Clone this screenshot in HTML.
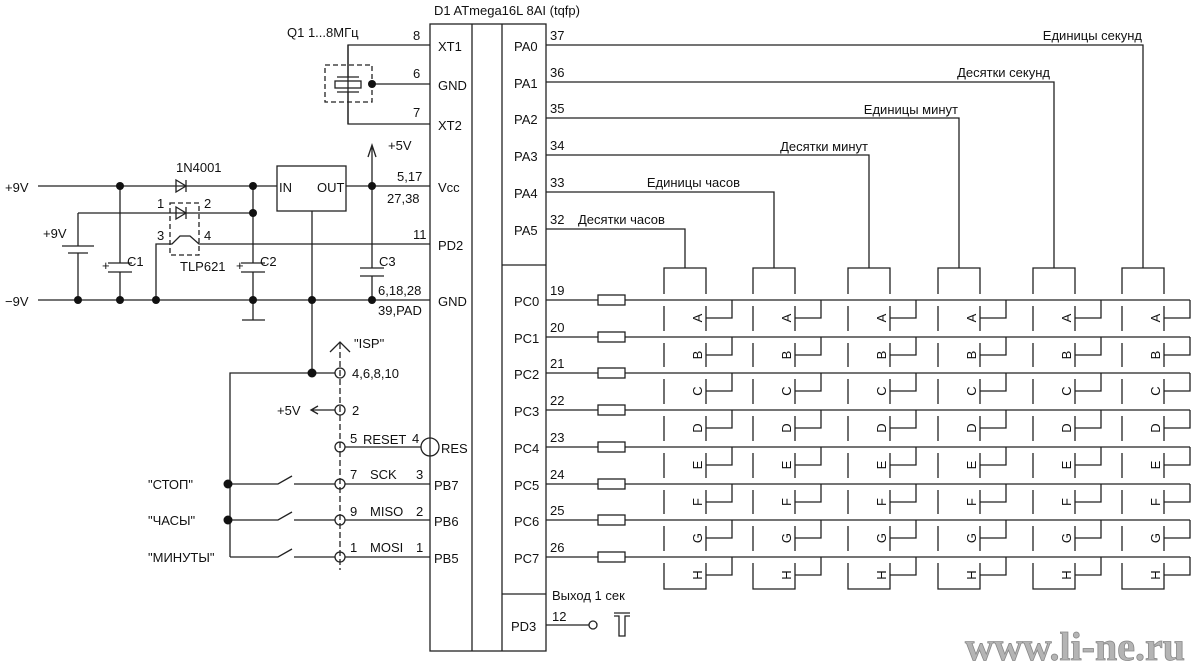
<!DOCTYPE html>
<html><head><meta charset="utf-8"><style>
html,body{margin:0;padding:0;background:#fff;}
svg{display:block;}
text{font-family:"Liberation Sans","DejaVu Sans",sans-serif;font-size:13px;fill:#111;}
.p{font-size:14px;}
.s{font-size:12px;}
</style></head><body>
<svg width="1200" height="668" viewBox="0 0 1200 668" xmlns="http://www.w3.org/2000/svg">
<rect width="1200" height="668" fill="#fff"/>
<g stroke="#222" stroke-width="1.3" fill="none">
<!-- chip -->
<rect x="430" y="24" width="116" height="627"/>
<line x1="472" y1="24" x2="472" y2="651"/>
<line x1="502" y1="24" x2="502" y2="651"/>
<line x1="502" y1="265" x2="546" y2="265"/>
<line x1="502" y1="594" x2="546" y2="594"/>
<!-- crystal -->
<path d="M430,45H348V124H430"/>
<line x1="372" y1="84" x2="430" y2="84"/>
<rect x="325" y="65" width="47" height="37" stroke-dasharray="5,3"/>
<rect x="335" y="81" width="26" height="7"/>
<line x1="337" y1="77" x2="359" y2="77"/><line x1="337" y1="92" x2="359" y2="92"/>
<line x1="348" y1="45" x2="348" y2="77"/><line x1="348" y1="92" x2="348" y2="124"/>
<!-- power -->
<line x1="38" y1="186" x2="277" y2="186"/>
<rect x="277" y="166" width="69" height="45"/>
<line x1="346" y1="186" x2="430" y2="186"/>
<path d="M372,186V145M368,157L372,145L376,157"/>
<path d="M176,180V192L186,186Z"/><line x1="186" y1="180" x2="186" y2="192"/>
<path d="M78,213H253"/>
<rect x="170" y="203" width="29" height="52" stroke-dasharray="5,3"/>
<path d="M176,207V219L186,213Z"/><line x1="186" y1="207" x2="186" y2="219"/>
<path d="M156,300V244H172L180,236L190,236L199,244H430"/>
<path d="M78,213V246M62,246H94M68,253H88M78,253V300"/>
<path d="M120,186V263M108,263H132M108,272H132M120,272V300"/>
<path d="M253,186V263M241,263H265M241,272H265M253,272V320M242,320H265"/>
<path d="M372,186V268M360,268H384M360,276H384M372,276V300"/>
<line x1="38" y1="300" x2="430" y2="300"/>
<path d="M312,211V373"/>
<!-- ISP -->
<line x1="340" y1="343" x2="340" y2="570" stroke-dasharray="6,3"/>
<path d="M330,352L340,342L350,352"/>
<path d="M230,557V373H335"/>
<path d="M335,410H312M318,406L311,410L318,414"/>
<path d="M345,447H421"/>
<circle cx="430" cy="447" r="9"/>
<path d="M345,484H430M230,484H278L292,476M294,484H335"/>
<path d="M345,520H430M230,520H278L292,512M294,520H335"/>
<path d="M345,557H430M230,557H278L292,549M294,557H335"/>
<circle cx="340" cy="373" r="5"/><circle cx="340" cy="410" r="5"/><circle cx="340" cy="447" r="5"/>
<circle cx="340" cy="484" r="5"/><circle cx="340" cy="520" r="5"/><circle cx="340" cy="557" r="5"/>
<!-- PA -->
<path d="M546,45H1143V268"/>
<path d="M546,82H1054V268"/>
<path d="M546,118H959V268"/>
<path d="M546,155H869V268"/>
<path d="M546,192H774V268"/>
<path d="M546,229H685V268"/>
<!-- PC rows -->
<path d="M546,300H598M625,300H1190M546,337H598M625,337H1190M546,373H598M625,373H1190M546,410H598M625,410H1190M546,447H598M625,447H1190M546,484H598M625,484H1190M546,520H598M625,520H1190M546,557H598M625,557H1190"/>
<rect x="598" y="295" width="27" height="10"/><rect x="598" y="332" width="27" height="10"/>
<rect x="598" y="368" width="27" height="10"/><rect x="598" y="405" width="27" height="10"/>
<rect x="598" y="442" width="27" height="10"/><rect x="598" y="479" width="27" height="10"/>
<rect x="598" y="515" width="27" height="10"/><rect x="598" y="552" width="27" height="10"/>
<!-- PD3 -->
<line x1="546" y1="625" x2="589" y2="625"/><circle cx="593" cy="625" r="4"/>
<path d="M614,613H630M614,616H619V636H625V616H630"/>
</g>
<g fill="#111">
<circle cx="372" cy="84" r="4"/><circle cx="120" cy="186" r="4"/><circle cx="253" cy="186" r="4"/>
<circle cx="372" cy="186" r="4"/><circle cx="253" cy="213" r="4"/>
<circle cx="78" cy="300" r="4"/><circle cx="120" cy="300" r="4"/><circle cx="156" cy="300" r="4"/>
<circle cx="253" cy="300" r="4"/><circle cx="312" cy="300" r="4"/><circle cx="372" cy="300" r="4"/>
<circle cx="312" cy="373" r="4.5"/><circle cx="228" cy="484" r="4.5"/><circle cx="228" cy="520" r="4.5"/>
</g>
<!-- digits -->
<g stroke="#222" stroke-width="1.3" fill="none">
<g transform="translate(664,0)"><path d="M0,294V268H42V294M0,306V331M0,343V367M0,379V404M0,416V441M0,453V478M0,490V514M0,526V551M0,563V589H42V563M42,306V331M42,343V367M42,379V404M42,416V441M42,453V478M42,490V514M42,526V551M42,318H68V300M42,355H68V337M42,391H68V373M42,428H68V410M42,465H68V447M42,502H68V484M42,538H68V520M42,575H68V557"/></g>
<g transform="translate(753,0)"><path d="M0,294V268H42V294M0,306V331M0,343V367M0,379V404M0,416V441M0,453V478M0,490V514M0,526V551M0,563V589H42V563M42,306V331M42,343V367M42,379V404M42,416V441M42,453V478M42,490V514M42,526V551M42,318H68V300M42,355H68V337M42,391H68V373M42,428H68V410M42,465H68V447M42,502H68V484M42,538H68V520M42,575H68V557"/></g>
<g transform="translate(848,0)"><path d="M0,294V268H42V294M0,306V331M0,343V367M0,379V404M0,416V441M0,453V478M0,490V514M0,526V551M0,563V589H42V563M42,306V331M42,343V367M42,379V404M42,416V441M42,453V478M42,490V514M42,526V551M42,318H68V300M42,355H68V337M42,391H68V373M42,428H68V410M42,465H68V447M42,502H68V484M42,538H68V520M42,575H68V557"/></g>
<g transform="translate(938,0)"><path d="M0,294V268H42V294M0,306V331M0,343V367M0,379V404M0,416V441M0,453V478M0,490V514M0,526V551M0,563V589H42V563M42,306V331M42,343V367M42,379V404M42,416V441M42,453V478M42,490V514M42,526V551M42,318H68V300M42,355H68V337M42,391H68V373M42,428H68V410M42,465H68V447M42,502H68V484M42,538H68V520M42,575H68V557"/></g>
<g transform="translate(1033,0)"><path d="M0,294V268H42V294M0,306V331M0,343V367M0,379V404M0,416V441M0,453V478M0,490V514M0,526V551M0,563V589H42V563M42,306V331M42,343V367M42,379V404M42,416V441M42,453V478M42,490V514M42,526V551M42,318H68V300M42,355H68V337M42,391H68V373M42,428H68V410M42,465H68V447M42,502H68V484M42,538H68V520M42,575H68V557"/></g>
<g transform="translate(1122,0)"><path d="M0,294V268H42V294M0,306V331M0,343V367M0,379V404M0,416V441M0,453V478M0,490V514M0,526V551M0,563V589H42V563M42,306V331M42,343V367M42,379V404M42,416V441M42,453V478M42,490V514M42,526V551M42,318H68V300M42,355H68V337M42,391H68V373M42,428H68V410M42,465H68V447M42,502H68V484M42,538H68V520M42,575H68V557"/></g>
</g>
<g class="s" font-size="12">
<g transform="translate(664,0)"><text transform="translate(38,318) rotate(-90)" text-anchor="middle">A</text><text transform="translate(38,355) rotate(-90)" text-anchor="middle">B</text><text transform="translate(38,391) rotate(-90)" text-anchor="middle">C</text><text transform="translate(38,428) rotate(-90)" text-anchor="middle">D</text><text transform="translate(38,465) rotate(-90)" text-anchor="middle">E</text><text transform="translate(38,502) rotate(-90)" text-anchor="middle">F</text><text transform="translate(38,538) rotate(-90)" text-anchor="middle">G</text><text transform="translate(38,575) rotate(-90)" text-anchor="middle">H</text></g>
<g transform="translate(753,0)"><text transform="translate(38,318) rotate(-90)" text-anchor="middle">A</text><text transform="translate(38,355) rotate(-90)" text-anchor="middle">B</text><text transform="translate(38,391) rotate(-90)" text-anchor="middle">C</text><text transform="translate(38,428) rotate(-90)" text-anchor="middle">D</text><text transform="translate(38,465) rotate(-90)" text-anchor="middle">E</text><text transform="translate(38,502) rotate(-90)" text-anchor="middle">F</text><text transform="translate(38,538) rotate(-90)" text-anchor="middle">G</text><text transform="translate(38,575) rotate(-90)" text-anchor="middle">H</text></g>
<g transform="translate(848,0)"><text transform="translate(38,318) rotate(-90)" text-anchor="middle">A</text><text transform="translate(38,355) rotate(-90)" text-anchor="middle">B</text><text transform="translate(38,391) rotate(-90)" text-anchor="middle">C</text><text transform="translate(38,428) rotate(-90)" text-anchor="middle">D</text><text transform="translate(38,465) rotate(-90)" text-anchor="middle">E</text><text transform="translate(38,502) rotate(-90)" text-anchor="middle">F</text><text transform="translate(38,538) rotate(-90)" text-anchor="middle">G</text><text transform="translate(38,575) rotate(-90)" text-anchor="middle">H</text></g>
<g transform="translate(938,0)"><text transform="translate(38,318) rotate(-90)" text-anchor="middle">A</text><text transform="translate(38,355) rotate(-90)" text-anchor="middle">B</text><text transform="translate(38,391) rotate(-90)" text-anchor="middle">C</text><text transform="translate(38,428) rotate(-90)" text-anchor="middle">D</text><text transform="translate(38,465) rotate(-90)" text-anchor="middle">E</text><text transform="translate(38,502) rotate(-90)" text-anchor="middle">F</text><text transform="translate(38,538) rotate(-90)" text-anchor="middle">G</text><text transform="translate(38,575) rotate(-90)" text-anchor="middle">H</text></g>
<g transform="translate(1033,0)"><text transform="translate(38,318) rotate(-90)" text-anchor="middle">A</text><text transform="translate(38,355) rotate(-90)" text-anchor="middle">B</text><text transform="translate(38,391) rotate(-90)" text-anchor="middle">C</text><text transform="translate(38,428) rotate(-90)" text-anchor="middle">D</text><text transform="translate(38,465) rotate(-90)" text-anchor="middle">E</text><text transform="translate(38,502) rotate(-90)" text-anchor="middle">F</text><text transform="translate(38,538) rotate(-90)" text-anchor="middle">G</text><text transform="translate(38,575) rotate(-90)" text-anchor="middle">H</text></g>
<g transform="translate(1122,0)"><text transform="translate(38,318) rotate(-90)" text-anchor="middle">A</text><text transform="translate(38,355) rotate(-90)" text-anchor="middle">B</text><text transform="translate(38,391) rotate(-90)" text-anchor="middle">C</text><text transform="translate(38,428) rotate(-90)" text-anchor="middle">D</text><text transform="translate(38,465) rotate(-90)" text-anchor="middle">E</text><text transform="translate(38,502) rotate(-90)" text-anchor="middle">F</text><text transform="translate(38,538) rotate(-90)" text-anchor="middle">G</text><text transform="translate(38,575) rotate(-90)" text-anchor="middle">H</text></g>
</g>
<!-- labels -->
<g class="p">
<text x="434" y="15">D1  ATmega16L  8AI  (tqfp)</text>
<text x="287" y="37">Q1  1...8МГц</text>
<text x="413" y="40">8</text><text x="413" y="78">6</text><text x="413" y="117">7</text>
<text x="438" y="51">XT1</text><text x="438" y="90">GND</text><text x="438" y="130">XT2</text>
<text x="438" y="192">Vcc</text><text x="438" y="250">PD2</text><text x="438" y="306">GND</text>
<text x="441" y="453">RES</text><text x="434" y="490">PB7</text><text x="434" y="526">PB6</text><text x="434" y="563">PB5</text>
<text x="388" y="150">+5V</text>
<text x="397" y="181">5,17</text><text x="387" y="203">27,38</text>
<text x="413" y="239">11</text>
<text x="378" y="295">6,18,28</text><text x="378" y="315">39,PAD</text>
<text x="5" y="192">+9V</text><text x="5" y="306">−9V</text>
<text x="43" y="238">+9V</text>
<text x="176" y="172">1N4001</text>
<text x="279" y="192">IN</text><text x="317" y="192">OUT</text>
<text x="157" y="208">1</text><text x="204" y="208">2</text><text x="157" y="240">3</text><text x="204" y="240">4</text>
<text x="180" y="271">TLP621</text>
<text x="102" y="270">+</text><text x="127" y="266">C1</text>
<text x="236" y="270">+</text><text x="260" y="266">C2</text>
<text x="379" y="266">C3</text>
<text x="354" y="348">"ISP"</text>
<text x="352" y="378">4,6,8,10</text>
<text x="352" y="415">2</text><text x="277" y="415">+5V</text>
<text x="350" y="443">5</text><text x="363" y="444">RESET</text><text x="412" y="443">4</text>
<text x="350" y="479">7</text><text x="370" y="479">SCK</text><text x="416" y="479">3</text>
<text x="350" y="516">9</text><text x="370" y="516">MISO</text><text x="416" y="516">2</text>
<text x="350" y="552">1</text><text x="370" y="552">MOSI</text><text x="416" y="552">1</text>
<text x="148" y="489">"СТОП"</text><text x="148" y="525">"ЧАСЫ"</text><text x="148" y="562">"МИНУТЫ"</text>
<text x="514" y="51">PA0</text><text x="514" y="88">PA1</text><text x="514" y="124">PA2</text>
<text x="514" y="161">PA3</text><text x="514" y="198">PA4</text><text x="514" y="235">PA5</text>
<text x="550" y="40">37</text><text x="550" y="77">36</text><text x="550" y="113">35</text>
<text x="550" y="150">34</text><text x="550" y="187">33</text><text x="550" y="224">32</text>
<text x="514" y="306">PC0</text><text x="514" y="343">PC1</text><text x="514" y="379">PC2</text><text x="514" y="416">PC3</text>
<text x="514" y="453">PC4</text><text x="514" y="490">PC5</text><text x="514" y="526">PC6</text><text x="514" y="563">PC7</text>
<text x="550" y="295">19</text><text x="550" y="332">20</text><text x="550" y="368">21</text><text x="550" y="405">22</text>
<text x="550" y="442">23</text><text x="550" y="479">24</text><text x="550" y="515">25</text><text x="550" y="552">26</text>
<text x="511" y="631">PD3</text>
<text x="552" y="621">12</text>
</g>
<g class="s" font-size="13">
<text x="1142" y="40" text-anchor="end">Единицы секунд</text>
<text x="1050" y="77" text-anchor="end">Десятки секунд</text>
<text x="958" y="114" text-anchor="end">Единицы минут</text>
<text x="868" y="151" text-anchor="end">Десятки минут</text>
<text x="740" y="187" text-anchor="end">Единицы часов</text>
<text x="578" y="224">Десятки часов</text>
<text x="552" y="600">Выход 1 сек</text>
</g>
<text x="1185" y="660" text-anchor="end" style="font-family:'Liberation Serif',serif;font-size:40px;font-weight:bold;fill:#b4b4b4;stroke:#888;stroke-width:0.8">www.li-ne.ru</text>
</svg>
</body></html>
